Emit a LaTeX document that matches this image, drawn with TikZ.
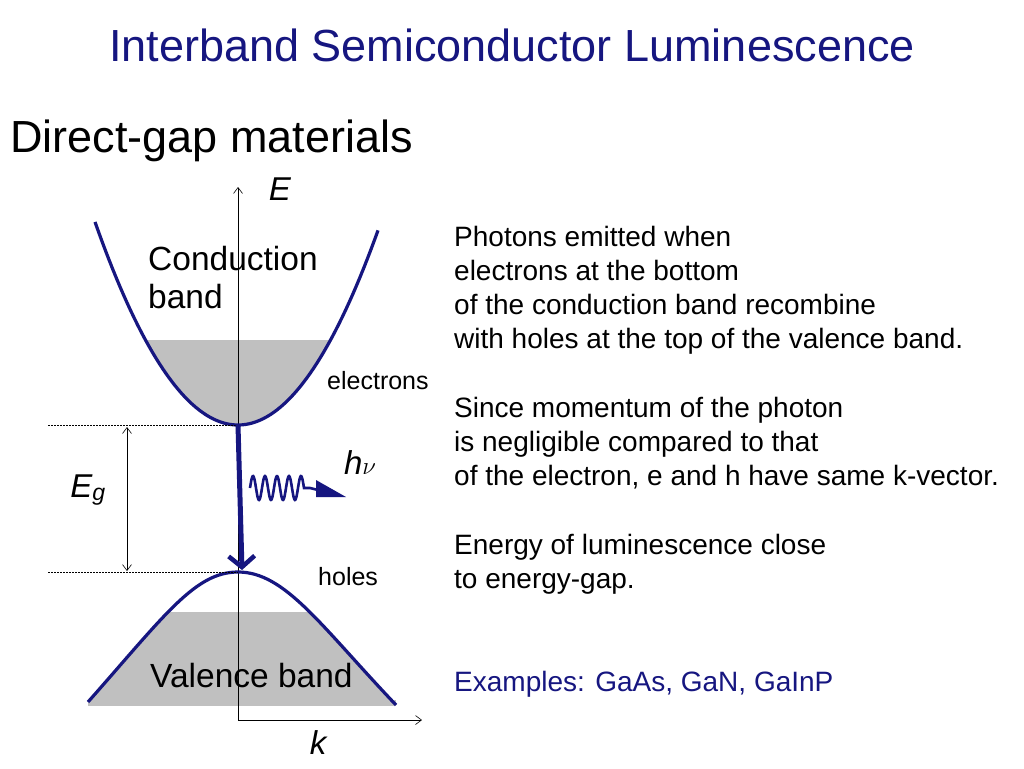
\documentclass[tikz,border=0pt]{standalone}
\usepackage{fontspec}
\setmainfont{Liberation Sans}
\usetikzlibrary{arrows.meta}
\definecolor{navy}{RGB}{22,22,128}
\definecolor{bandgray}{RGB}{192,192,192}
\begin{document}
\begin{tikzpicture}[x=1pt,y=-1pt,
  band/.style={draw=navy,line width=3.2pt},
  txt/.style={anchor=base west,inner sep=0pt,font=\fontsize{28}{28}\selectfont},
  big/.style={anchor=base west,inner sep=0pt,font=\fontsize{33.5}{33.5}\selectfont},
  small/.style={anchor=base west,inner sep=0pt,font=\fontsize{25}{25}\selectfont}]
\useasboundingbox (0,0) rectangle (1024,768);
\fill[white] (0,0) rectangle (1024,768);
\node[anchor=base,inner sep=0pt,text=navy,font=\fontsize{45}{45}\selectfont] (title) at (512,62) {Interband Semiconductor Luminescence};
\node[anchor=base west,inner sep=0pt,font=\fontsize{45}{45}\selectfont] (sub) at (10,152) {Direct-gap materials};
% fills
\begin{scope}
\clip plot[domain=-143:140,samples=80] ({238+\x},{425-0.993*(\x/10)*(\x/10)}) -- cycle;
\fill[bandgray] (140,340) rectangle (340,430);
\end{scope}
\begin{scope}
\clip (88,702) .. controls (165,615) and (195,572) .. (238,572) .. controls (285,572) and (320,625) .. (396,705) -- cycle;
\fill[bandgray] (80,612) rectangle (400,706);
\end{scope}
\fill[bandgray] (88,700) rectangle (396,706);
% axes
\coordinate (o) at (238,720);
\coordinate (etop) at (238,187);
\coordinate (kend) at (422,720);
\draw[-{Straight Barb[length=6pt,width=9pt]},line width=0.6pt] (o) -- (etop);
\draw[-{Straight Barb[length=6pt,width=9pt]},line width=0.6pt] (o) -- (kend);
\node[inner sep=0pt,font=\fontsize{33}{33}\selectfont\itshape] (E) at (280,189) {E};
\node[inner sep=0pt,font=\fontsize{33}{33}\selectfont\itshape] (k) at (318,743) {k};
% bands
\draw[band] plot[domain=-143:140,samples=80] ({238+\x},{425-0.993*(\x/10)*(\x/10)});
\draw[band] (88,702) .. controls (165,615) and (195,572) .. (238,572) .. controls (285,572) and (320,625) .. (396,705);
% dashed levels
\coordinate (cb) at (238,425); \coordinate (vb) at (238,572);
\coordinate (cl) at (48,425); \coordinate (vl) at (48,572);
\draw[line width=0.5pt,dash pattern=on 2pt off 1pt] (cl) -- (cb);
\draw[line width=0.5pt,dash pattern=on 2pt off 1pt] (vl) -- (vb);
\coordinate (ea) at (127,427); \coordinate (eb) at (127,571);
\draw[{Straight Barb[length=6pt,width=9pt]}-{Straight Barb[length=6pt,width=9pt]},line width=0.6pt] (ea) -- (eb);
\node[inner sep=0pt,font=\fontsize{33}{33}\selectfont\itshape] (Eg) at (88,490) {E\textsubscript{g}};
% transition
\coordinate (tb) at (242,570);
\draw[navy,line width=5pt,-{Straight Barb[length=11pt,width=26pt,line width=4.5pt]}] (cb) -- (tb);
\draw[navy,line width=2.6pt] plot[domain=0:4.5,samples=120] ({250+\x*12},{488-12*sin(\x*360)}) -- (310,488) -- (318,490);
\fill[navy] (316,480) -- (346,497) -- (316,497) -- cycle;
\node[inner sep=0pt,font=\fontsize{33}{33}\selectfont\itshape] (hv) at (360,463) {h$\nu$};
% labels
\node[big] (cond) at (148,270) {Conduction};
\node[big] (cond2) at (148,308) {band};
\node[big] (val) at (150,687) {Valence band};
\node[small] (el) at (327,389) {electrons};
\node[small] (ho) at (318,585) {holes};
% right text
\node[txt] (t1) at (454,246) {Photons emitted when};
\node[txt] (t2) at (454,280) {electrons at the bottom};
\node[txt] (t3) at (454,314) {of the conduction band recombine};
\node[txt] (t4) at (454,348) {with holes at the top of the valence band.};
\node[txt] (t5) at (454,417) {Since momentum of the photon};
\node[txt] (t6) at (454,451) {is negligible compared to that};
\node[txt] (t7) at (454,485) {of the electron, e and h have same k-vector.};
\node[txt] (t8) at (454,554) {Energy of luminescence close};
\node[txt] (t9) at (454,588) {to energy-gap.};
\node[txt,text=navy] (t10) at (454,691) {Examples: GaAs, GaN, GaInP};
\end{tikzpicture}
\end{document}
